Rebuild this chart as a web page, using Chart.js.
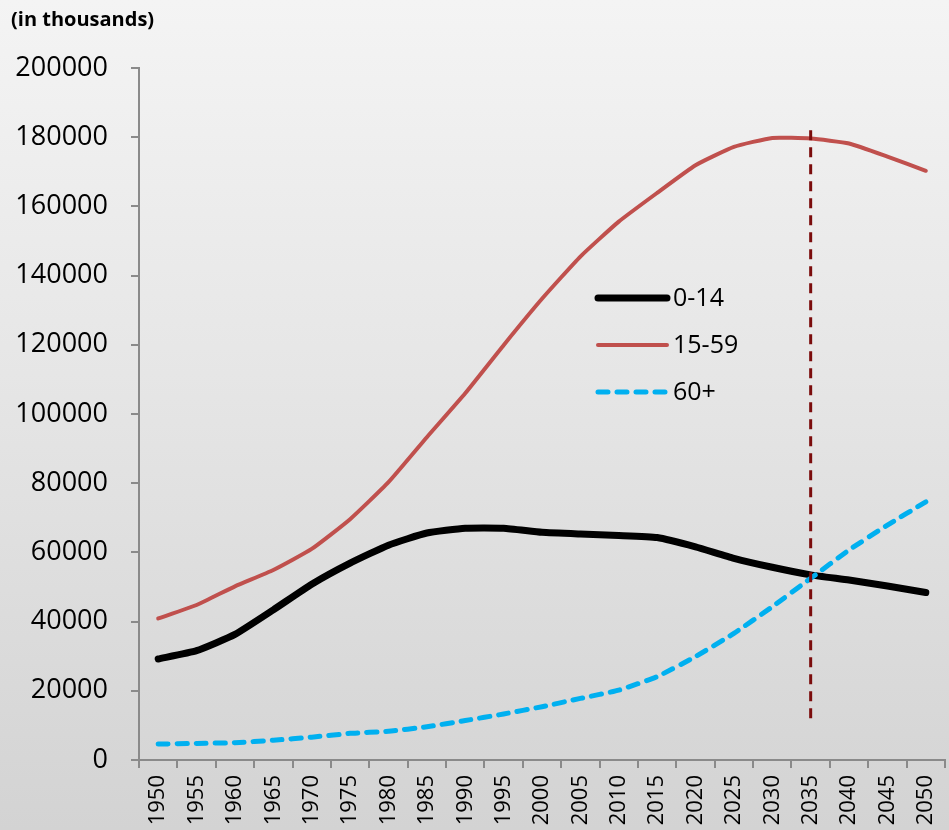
<!DOCTYPE html>
<html>
<head>
<meta charset="utf-8">
<script src="https://cdn.jsdelivr.net/npm/chart.js@4/dist/chart.umd.min.js"></script>
<style>
  html, body { margin: 0; padding: 0; }
  body {
    width: 949px; height: 830px; overflow: hidden;
    background: linear-gradient(180deg, #f4f4f4 0%, #e6e6e6 45%, #d3d3d3 100%);
  }
  canvas { display: block; }
</style>
</head>
<body>
<canvas id="chart" width="949" height="830"></canvas>
<script>
// Population by age group, in thousands
const years = ['1950','1955','1960','1965','1970','1975','1980','1985','1990','1995','2000',
               '2005','2010','2015','2020','2025','2030','2035','2040','2045','2050'];
const age0to14 = [29200, 31600, 36300, 43400, 50800, 56900, 62100, 65600, 67000, 67000, 65800,
                  65300, 64900, 64300, 61600, 58300, 55700, 53500, 52000, 50300, 48400];
const age15to59 = [40900, 44800, 50200, 54900, 61000, 69600, 80300, 93300, 106000, 119900, 133300,
                   145500, 155600, 163900, 171900, 177200, 179800, 179600, 178200, 174400, 170300];
const age60plus = [4600, 4800, 5000, 5700, 6600, 7700, 8300, 9600, 11400, 13300, 15400,
                   17800, 20200, 24100, 29900, 36600, 44300, 52500, 60700, 67900, 74600];
const yTicks = [0, 20000, 40000, 60000, 80000, 100000, 120000, 140000, 160000, 180000, 200000];

// Vertical reference line at the year the 0-14 and 60+ curves cross
const markerYear = '2035';
const markerFrom = 12000;
const markerTo = 182000;

const FONT = '"Open Sans", "Noto Sans", sans-serif';
const AXIS_GRAY = '#8a8a8a';

const titlePlugin = {
  id: 'unitTitle',
  afterDraw(chart) {
    const ctx = chart.ctx;
    ctx.save();
    ctx.font = 'bold 20px ' + FONT;
    ctx.fillStyle = '#000';
    ctx.textAlign = 'left';
    ctx.textBaseline = 'middle';
    ctx.fillText('(in thousands)', 11, 20);
    ctx.restore();
  }
};

const markerPlugin = {
  id: 'yearMarker',
  afterDatasetsDraw(chart) {
    const { ctx, scales: { x, y } } = chart;
    const px = x.getPixelForValue(years.indexOf(markerYear));
    ctx.save();
    ctx.strokeStyle = '#7b0c0c';
    ctx.lineWidth = 3;
    ctx.setLineDash([10, 7]);
    ctx.beginPath();
    ctx.moveTo(px, y.getPixelForValue(markerTo));
    ctx.lineTo(px, y.getPixelForValue(markerFrom));
    ctx.stroke();
    ctx.restore();
  }
};

// Legend drawn inside the plot area, each row a line sample then the label
const innerLegend = {
  id: 'innerLegend',
  afterDraw(chart) {
    const ctx = chart.ctx;
    const x0 = 598, x1 = 667, tx = 673;
    const rows = [298, 345, 392];
    ctx.save();
    chart.data.datasets.forEach((ds, i) => {
      const yy = rows[i];
      ctx.strokeStyle = ds.borderColor;
      ctx.lineWidth = ds.borderWidth;
      ctx.lineCap = 'round';
      ctx.setLineDash(ds.borderDash || []);
      ctx.beginPath();
      ctx.moveTo(x0, yy);
      ctx.lineTo(x1, yy);
      ctx.stroke();
      ctx.setLineDash([]);
      ctx.font = '25px ' + FONT;
      ctx.fillStyle = '#000';
      ctx.textAlign = 'left';
      ctx.textBaseline = 'middle';
      ctx.fillText(ds.label, tx, yy + 1);
    });
    ctx.restore();
  }
};

new Chart(document.getElementById('chart'), {
  type: 'line',
  data: {
    labels: years,
    datasets: [
      { label: '0-14', data: age0to14, borderColor: '#000000', borderWidth: 7, order: 2 },
      { label: '15-59', data: age15to59, borderColor: '#c0504d', borderWidth: 4, order: 1 },
      { label: '60+', data: age60plus, borderColor: '#00b0f0', borderWidth: 5,
        borderDash: [10, 9], order: 0 }
    ]
  },
  options: {
    responsive: false,
    animation: false,
    layout: { padding: { top: 68, right: 4, left: 0, bottom: 0 } },
    elements: {
      point: { radius: 0, hoverRadius: 0 },
      line: { tension: 0.15, fill: false, borderCapStyle: 'round', borderJoinStyle: 'round' }
    },
    plugins: {
      legend: { display: false },
      tooltip: { enabled: false },
      title: { display: false }
    },
    scales: {
      x: {
        offset: true,
        grid: { offset: true, drawOnChartArea: false, drawTicks: true, tickLength: 8,
                color: AXIS_GRAY, lineWidth: 2 },
        border: { color: AXIS_GRAY, width: 2 },
        ticks: { autoSkip: false, maxRotation: 90, minRotation: 90, padding: 7,
                 color: '#000', font: { family: FONT, size: 22 } },
        afterFit(s) { s.height = 70; s.paddingLeft = 0; s.paddingRight = 0; }
      },
      y: {
        min: yTicks[0],
        max: yTicks[yTicks.length - 1],
        afterBuildTicks(s) { s.ticks = yTicks.map(v => ({ value: v })); },
        grid: { drawOnChartArea: false, drawTicks: true, tickLength: 8,
                color: AXIS_GRAY, lineWidth: 2 },
        border: { color: AXIS_GRAY, width: 2 },
        ticks: { padding: 23, color: '#000', font: { family: FONT, size: 27 },
                 callback: v => String(v) },
        afterFit(s) { s.width = 139; }
      }
    }
  },
  plugins: [titlePlugin, markerPlugin, innerLegend]
});
</script>
</body>
</html>
